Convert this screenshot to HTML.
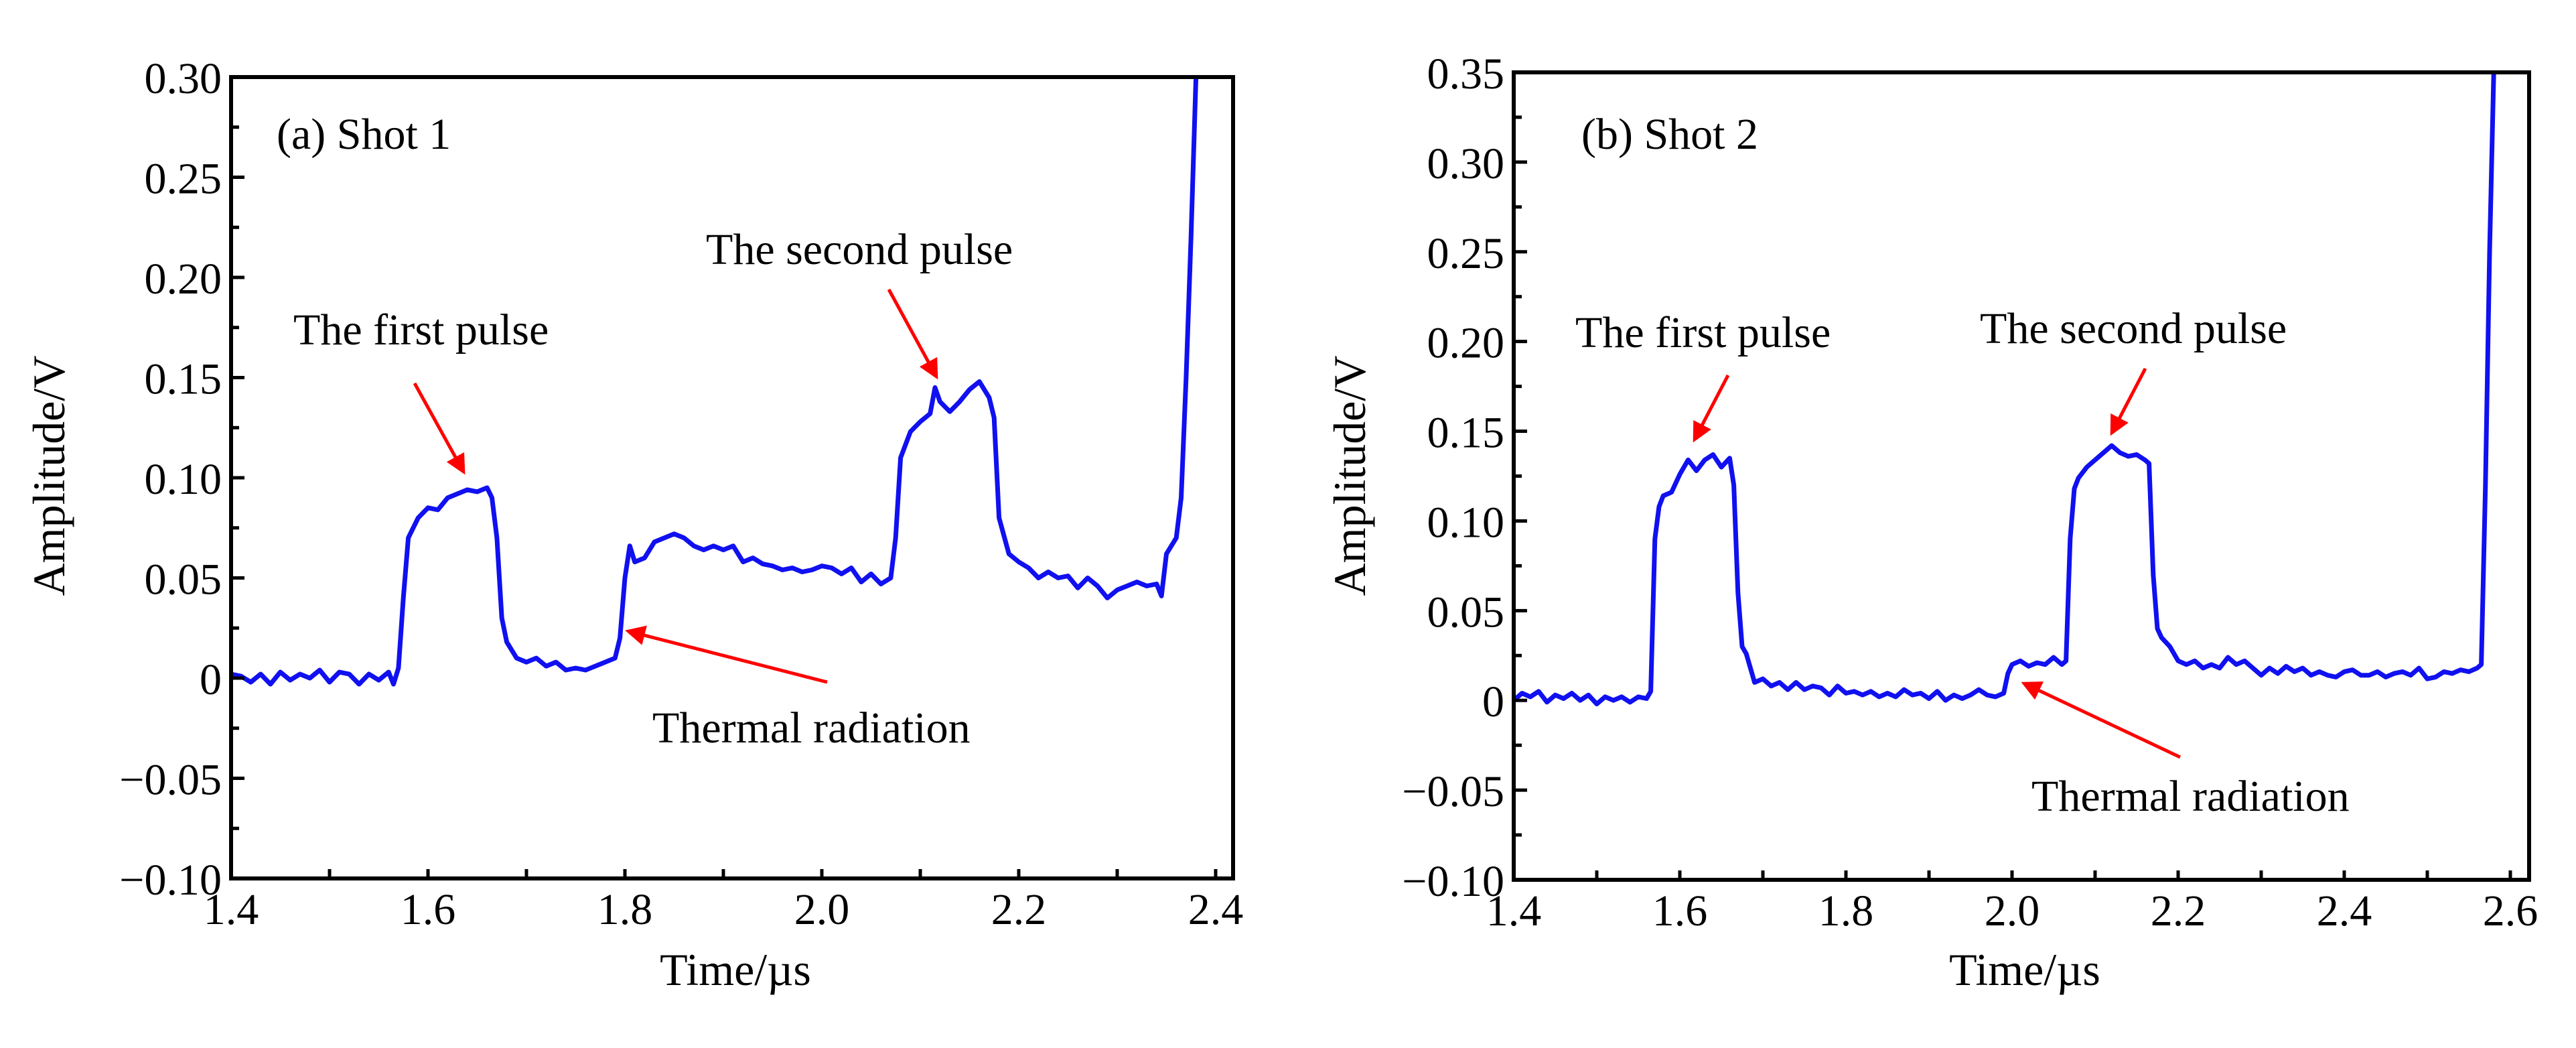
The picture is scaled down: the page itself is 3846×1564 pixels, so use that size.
<!DOCTYPE html>
<html><head><meta charset="utf-8"><style>
html,body{margin:0;padding:0;background:#fff;}
svg text{font-family:"Liberation Serif",serif;fill:#000;}
</style></head><body>
<svg id="chart" width="3846" height="1559" viewBox="0 0 3846 1559" xmlns="http://www.w3.org/2000/svg">
<defs><marker id="ah" markerWidth="6" markerHeight="6" refX="5" refY="3" orient="auto" markerUnits="strokeWidth"><path d="M0,0 L6,3 L0,6 Z" fill="#f00"/></marker></defs>
</svg>
<script>
const timesA=[1.40,1.41,1.42,1.43,1.44,1.45,1.46,1.47,1.48,1.49,1.50,1.51,1.52,1.53,1.54,1.55,1.56,1.565,1.57,1.575,1.58,1.59,1.60,1.61,1.62,1.63,1.64,1.65,1.66,1.665,1.67,1.675,1.68,1.69,1.70,1.71,1.72,1.73,1.74,1.75,1.76,1.77,1.78,1.79,1.795,1.80,1.805,1.81,1.82,1.83,1.84,1.85,1.86,1.87,1.88,1.89,1.90,1.91,1.92,1.93,1.94,1.95,1.96,1.97,1.98,1.99,2.00,2.01,2.02,2.03,2.04,2.05,2.06,2.07,2.075,2.08,2.09,2.10,2.11,2.115,2.12,2.13,2.14,2.15,2.16,2.17,2.175,2.18,2.19,2.20,2.21,2.22,2.23,2.24,2.25,2.26,2.27,2.28,2.29,2.30,2.31,2.32,2.33,2.34,2.345,2.35,2.36,2.365,2.37,2.375,2.38];
const valuesA=[0.002,0.001,-0.002,0.002,-0.003,0.003,-0.001,0.002,0.000,0.004,-0.002,0.003,0.002,-0.003,0.002,-0.001,0.003,-0.003,0.005,0.04,0.07,0.080,0.085,0.084,0.090,0.092,0.094,0.093,0.095,0.090,0.07,0.03,0.018,0.010,0.008,0.010,0.006,0.008,0.004,0.005,0.004,0.006,0.008,0.010,0.02,0.050,0.066,0.058,0.060,0.068,0.070,0.072,0.070,0.066,0.064,0.066,0.064,0.066,0.058,0.060,0.057,0.056,0.054,0.055,0.053,0.054,0.056,0.055,0.052,0.055,0.048,0.052,0.047,0.050,0.07,0.110,0.123,0.128,0.132,0.145,0.138,0.133,0.138,0.144,0.148,0.140,0.130,0.08,0.062,0.058,0.055,0.050,0.053,0.050,0.051,0.045,0.050,0.046,0.040,0.044,0.046,0.048,0.046,0.047,0.041,0.062,0.070,0.09,0.15,0.22,0.30];
const timesB=[1.40,1.41,1.42,1.43,1.44,1.45,1.46,1.47,1.48,1.49,1.50,1.51,1.52,1.53,1.54,1.55,1.56,1.565,1.57,1.575,1.58,1.59,1.60,1.61,1.62,1.63,1.64,1.65,1.66,1.665,1.67,1.675,1.68,1.69,1.70,1.71,1.72,1.73,1.74,1.75,1.76,1.77,1.78,1.79,1.80,1.81,1.82,1.83,1.84,1.85,1.86,1.87,1.88,1.89,1.90,1.91,1.92,1.93,1.94,1.95,1.96,1.97,1.98,1.99,1.995,2.00,2.01,2.02,2.03,2.04,2.05,2.06,2.065,2.07,2.075,2.08,2.09,2.10,2.11,2.12,2.13,2.14,2.15,2.16,2.165,2.17,2.175,2.18,2.19,2.20,2.21,2.22,2.23,2.24,2.25,2.26,2.27,2.28,2.29,2.30,2.31,2.32,2.33,2.34,2.35,2.36,2.37,2.38,2.39,2.40,2.41,2.42,2.43,2.44,2.45,2.46,2.47,2.48,2.49,2.50,2.51,2.52,2.53,2.54,2.55,2.56,2.565,2.57,2.575,2.58];
const valuesB=[0.000,0.004,0.002,0.005,-0.001,0.003,0.001,0.004,0.000,0.003,-0.002,0.002,0.000,0.002,-0.001,0.002,0.001,0.005,0.09,0.108,0.114,0.116,0.126,0.134,0.128,0.134,0.137,0.130,0.135,0.12,0.06,0.030,0.026,0.010,0.012,0.008,0.010,0.006,0.010,0.006,0.008,0.007,0.003,0.008,0.004,0.005,0.003,0.005,0.002,0.004,0.002,0.006,0.003,0.004,0.001,0.005,0.000,0.003,0.001,0.003,0.006,0.003,0.002,0.004,0.015,0.020,0.022,0.019,0.021,0.020,0.024,0.020,0.022,0.09,0.118,0.124,0.130,0.134,0.138,0.142,0.138,0.136,0.137,0.134,0.132,0.07,0.040,0.035,0.030,0.022,0.020,0.022,0.018,0.020,0.018,0.024,0.020,0.022,0.018,0.014,0.018,0.015,0.019,0.016,0.018,0.014,0.016,0.014,0.013,0.016,0.017,0.014,0.014,0.016,0.013,0.015,0.016,0.014,0.018,0.012,0.013,0.016,0.015,0.017,0.016,0.018,0.02,0.12,0.25,0.35];
const xTicksA=["1.4","1.6","1.8","2.0","2.2","2.4"];
const xTicksB=["1.4","1.6","1.8","2.0","2.2","2.4","2.6"];
const yTicksA=["0.30","0.25","0.20","0.15","0.10","0.05","0","\u22120.05","\u22120.10"];
const yTicksB=["0.35","0.30","0.25","0.20","0.15","0.10","0.05","0","\u22120.05","\u22120.10"];

const NS="http://www.w3.org/2000/svg";
const svg=document.getElementById('chart');
function mk(tag,attrs,parent){const e=document.createElementNS(NS,tag);for(const k in attrs)e.setAttribute(k,attrs[k]);(parent||svg).appendChild(e);return e;}

function panel(cfg){
  const g=mk('g',{});
  
  
  const X=t=>cfg.L+(t-cfg.x0)/(cfg.x1-cfg.x0)*(cfg.R-cfg.L);
  const Y=v=>cfg.T+(cfg.y1-v)/(cfg.y1-cfg.y0)*(cfg.B-cfg.T);
  const cid='clip'+cfg.name;
  const cp=mk('clipPath',{id:cid},g);mk('rect',{x:cfg.L,y:cfg.T,width:cfg.R-cfg.L,height:cfg.B-cfg.T},cp);
  let d='';cfg.t.forEach((t,i)=>{d+=(i?'L':'M')+X(t).toFixed(1)+','+Y(cfg.v[i]).toFixed(1);});
  const line=mk('path',{d:d,fill:'none',stroke:'#1010f0','stroke-width':7,'stroke-linejoin':'round','clip-path':'url(#'+cid+')'},g);
  
  
  const fr=mk('rect',{x:cfg.L,y:cfg.T,width:cfg.R-cfg.L,height:cfg.B-cfg.T,fill:'none',stroke:'#000','stroke-width':6},g);
  
  
  for(let t=cfg.x0;t<=cfg.x1+1e-9;t+=0.1){const x=X(t);mk('line',{x1:x,y1:cfg.B,x2:x,y2:cfg.B-14,stroke:'#000','stroke-width':5},g);}
  cfg.xt.forEach(s=>{const tx=mk('text',{x:X(parseFloat(s)),y:cfg.B+68,'font-size':66,'text-anchor':'middle'},g);tx.textContent=s;
    
    });
  for(let v=cfg.y0;v<=cfg.y1+1e-9;v+=0.025){const y=Y(v);const major=Math.abs(Math.round(v/0.05)*0.05-v)<1e-6;mk('line',{x1:cfg.L,y1:y,x2:cfg.L+(major?20:12),y2:y,stroke:'#000','stroke-width':5},g);}
  cfg.yt.forEach(s=>{const v=parseFloat(s.replace('\u2212','-'));const tx=mk('text',{x:cfg.L-14,y:Y(v)+24,'font-size':66,'text-anchor':'end'},g);tx.textContent=s;
    
    });
  const xt=mk('text',{x:(cfg.L+cfg.R)/2+5,y:1470,'font-size':68,'text-anchor':'middle'},g);xt.textContent='Time/\u00b5s';
  
  
  const yt=mk('text',{x:0,y:0,'font-size':68,'text-anchor':'middle',transform:'translate('+cfg.ytx+',710) rotate(-90)'},g);yt.textContent='Amplitude/V';
  
  
  cfg.notes.forEach(n=>{const tx=mk('text',{x:n[1],y:n[2],'font-size':66},g);tx.textContent=n[0];
    
    });
  cfg.arrows.forEach(a=>{const l=mk('line',{x1:a[0],y1:a[1],x2:a[2],y2:a[3],stroke:'#f00','stroke-width':5,'marker-end':'url(#ah)'},g);
    
    });
}
panel({name:'panel-shot-1',L:345,R:1841,T:115,B:1311,x0:1.4,x1:2.4177,y0:-0.10,y1:0.30,t:timesA,v:valuesA,xt:xTicksA,yt:yTicksA,ytx:96,
  notes:[['(a) Shot 1',413,222],['The first pulse',438,514],['The second pulse',1054,394],['Thermal radiation',974,1108]],
  arrows:[[619,572,692,704],[1327,432,1398,562],[1235,1018,938,942]]});
panel({name:'panel-shot-2',L:2260,R:3776,T:108,B:1313,x0:1.4,x1:2.6226,y0:-0.10,y1:0.35,t:timesB,v:valuesB,xt:xTicksB,yt:yTicksB,ytx:2038,
  notes:[['(b) Shot 2',2361,222],['The first pulse',2352,518],['The second pulse',2956,512],['Thermal radiation',3033,1210]],
  arrows:[[2580,560,2530,656],[3203,550,3153,646],[3255,1130,3022,1020]]});
</script>
</body></html>
